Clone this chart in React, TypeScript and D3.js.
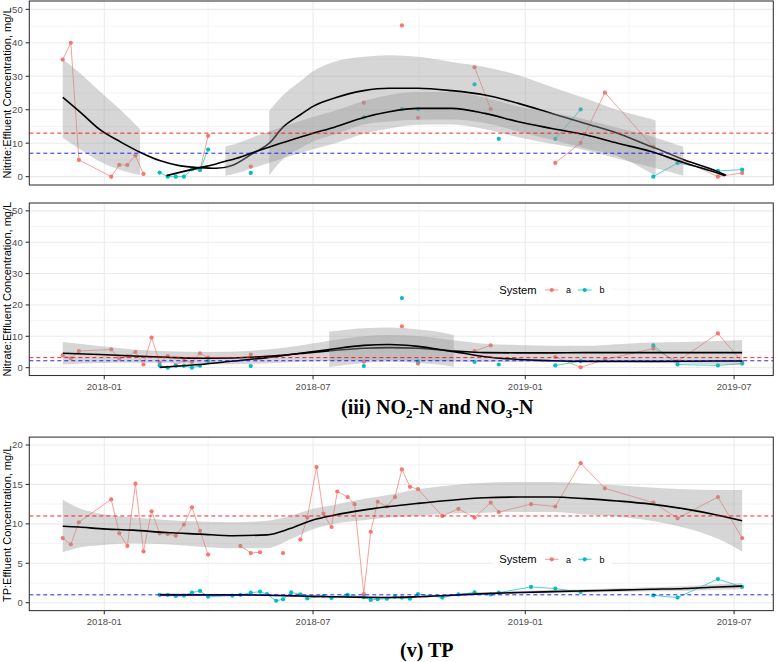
import React from 'react';
import * as d3 from 'd3';

type Obs = [string, number | null];
type Fit = [string, number, number | null, number | null];

// ---------- Nitrite (top panel) ----------
const nitriteA: Obs[] = [
  ['2017-11-26', 35], ['2017-12-03', 40], ['2017-12-10', 5], ['2018-01-07', 0], ['2018-01-14', 3.5],
  ['2018-01-21', 3.5], ['2018-01-28', 6.3], ['2018-02-04', 0.8], ['2018-02-11', null],
  ['2018-03-25', 2.0], ['2018-04-01', 12.2], ['2018-04-15', null], ['2018-05-08', 3.0], ['2018-06-01', null],
  ['2018-08-14', 22.1], ['2018-09-01', null], ['2018-09-16', 45.2], ['2018-09-23', null], ['2018-09-30', 17.6],
  ['2018-10-15', null], ['2018-11-18', 32.7], ['2018-12-02', 20.2], ['2018-12-20', null],
  ['2019-01-27', 4.1], ['2019-02-18', 10.1], ['2019-03-11', 25.1], ['2019-04-22', 8.9], ['2019-06-17', 0.0], ['2019-07-08', 1.1],
];
const nitriteB: Obs[] = [
  ['2018-02-18', 1.2], ['2018-02-25', 0], ['2018-03-04', 0], ['2018-03-11', 0], ['2018-03-18', 2.2],
  ['2018-03-25', 2.0], ['2018-04-01', 8.1], ['2018-04-15', null], ['2018-05-08', 1.1], ['2018-06-01', null],
  ['2018-08-14', 17.7], ['2018-09-01', null], ['2018-09-16', 20.2], ['2018-09-23', null], ['2018-09-30', 20.2],
  ['2018-10-15', null], ['2018-11-18', 27.6], ['2018-11-25', null], ['2018-12-09', 11.3], ['2018-12-20', null],
  ['2019-01-27', 11.3], ['2019-02-18', 20.1], ['2019-03-11', null], ['2019-04-22', 0], ['2019-05-13', 4.1],
  ['2019-06-17', 1.7], ['2019-07-08', 2.1],
];
const nitriteFitA: Fit[] = [
  ['2017-11-26', 23.7, 11.6, 35.1], ['2017-12-14', 18.4, 7.5, 30.0], ['2017-12-28', 14.1, 4.5, 25.5],
  ['2018-01-15', 10.4, 2.0, 20.0], ['2018-02-01', 7.3, 0.5, 14.2], ['2018-02-18', 4.8, null, null],
  ['2018-03-07', 3.3, null, null], ['2018-03-25', 2.7, null, null], ['2018-04-08', 2.5, null, null],
  ['2018-04-23', 3.5, null, null], ['2018-05-10', 7.0, null, null], ['2018-05-24', 10.0, 0.4, 19.6],
  ['2018-06-05', 14.8, 5.3, 24.3], ['2018-06-20', 18.5, 8.5, 28.5], ['2018-07-01', 21.0, 10.5, 31.5],
  ['2018-07-19', 23.4, 12.5, 34.3], ['2018-08-14', 25.7, 15.6, 35.8], ['2018-09-05', 26.4, 16.5, 36.3],
  ['2018-09-30', 26.4, 17.0, 35.8], ['2018-10-29', 25.7, 17.1, 34.3], ['2018-11-27', 24.4, 16.0, 32.8],
  ['2018-12-26', 21.9, 13.5, 30.3], ['2019-01-24', 18.9, 11.0, 26.8], ['2019-02-22', 15.9, 8.4, 23.4],
  ['2019-03-22', 13.0, 6.1, 19.9], ['2019-04-20', 9.0, 1.0, 17.2], ['2019-04-24', 8.5, 0.2, 16.8],
  ['2019-05-19', 5.0, null, null], ['2019-06-17', 1.5, null, null], ['2019-06-24', 0.4, null, null],
];
const nitriteFitB: Fit[] = [
  ['2018-02-24', 0.3, null, null], ['2018-03-10', 1.5, null, null], ['2018-03-25', 2.7, null, null],
  ['2018-04-08', 3.8, null, null], ['2018-04-16', 4.6, 0.3, 9.0], ['2018-04-23', 5.2, 0.8, 9.6],
  ['2018-05-10', 7.2, 2.6, 11.8], ['2018-06-05', 10.2, 5.5, 14.9], ['2018-07-01', 13.0, 8.2, 17.8],
  ['2018-07-19', 14.7, 9.8, 19.6], ['2018-08-14', 17.7, 12.8, 22.6], ['2018-09-05', 19.4, 14.4, 24.4],
  ['2018-09-30', 20.4, 15.5, 25.3], ['2018-10-29', 20.4, 15.6, 25.2], ['2018-11-27', 18.9, 14.2, 23.6],
  ['2018-12-26', 16.4, 11.8, 21.0], ['2019-01-24', 14.4, 9.8, 19.0], ['2019-02-22', 12.5, 7.9, 17.1],
  ['2019-03-22', 10.0, 5.4, 14.6], ['2019-04-20', 7.5, 2.9, 12.1], ['2019-05-18', 4.2, 0.3, 8.9],
  ['2019-06-17', 1.0, null, null], ['2019-06-23', 0.3, null, null],
];
const nitriteLimits = [13, 7];

// ---------- Nitrate (middle panel) ----------
const nitrateA: Obs[] = [
  ['2017-11-26', 3.9], ['2017-12-03', 3.0], ['2017-12-10', 5.3], ['2018-01-07', 5.8], ['2018-01-14', 2.9],
  ['2018-01-21', 3.7], ['2018-01-28', 5.0], ['2018-02-04', 1.0], ['2018-02-11', 9.6], ['2018-02-18', 1.6],
  ['2018-02-25', 3.7], ['2018-03-04', 0.8], ['2018-03-11', 2.3], ['2018-03-18', 1.8], ['2018-03-25', 4.6],
  ['2018-04-01', 3.2], ['2018-04-15', null], ['2018-05-08', 4.2], ['2018-06-01', null], ['2018-08-14', 1.9],
  ['2018-09-01', null], ['2018-09-16', 13.2], ['2018-09-23', null], ['2018-09-30', 1.3], ['2018-10-15', null],
  ['2018-11-18', 5.3], ['2018-12-02', 7.1], ['2018-12-20', null], ['2019-01-27', 3.4], ['2019-02-18', 0.1],
  ['2019-03-11', 2.6], ['2019-04-22', 6.1], ['2019-05-13', 2.0], ['2019-06-17', 10.9], ['2019-07-08', 1.8],
];
const nitrateB: Obs[] = [
  ['2018-02-18', 0.7], ['2018-02-25', 0], ['2018-03-04', 0.6], ['2018-03-11', 0.6], ['2018-03-18', 0],
  ['2018-03-25', 0.6], ['2018-04-01', 2.1], ['2018-04-15', null], ['2018-05-08', 0.5], ['2018-06-01', null],
  ['2018-08-14', 0.5], ['2018-09-01', null], ['2018-09-16', 22.2], ['2018-09-23', null], ['2018-09-30', 2.0],
  ['2018-10-15', null], ['2018-11-18', 1.8], ['2018-11-25', null], ['2018-12-09', 1.0], ['2018-12-20', null],
  ['2019-01-27', 0.7], ['2019-02-18', 2.1], ['2019-03-11', null], ['2019-04-22', 7.1], ['2019-05-13', 1.0],
  ['2019-06-17', 0.7], ['2019-07-08', 1.3],
];
const nitrateFitA: Fit[] = [
  ['2017-11-26', 4.6, 1.0, 8.2], ['2017-12-28', 4.2, 1.5, 6.9], ['2018-01-26', 3.7, 1.6, 5.8],
  ['2018-02-24', 3.3, 1.5, 5.2], ['2018-03-25', 3.0, 1.1, 5.0], ['2018-04-23', 3.1, 1.1, 5.1],
  ['2018-05-22', 3.6, 1.4, 5.8], ['2018-06-20', 4.5, 1.9, 7.1], ['2018-07-19', 5.5, 2.2, 8.8],
  ['2018-08-14', 6.2, 2.4, 10.0], ['2018-09-05', 6.4, 2.4, 10.4], ['2018-09-30', 6.2, 2.3, 10.1],
  ['2018-10-29', 5.4, 2.0, 8.8], ['2018-11-27', 4.8, 1.8, 7.6], ['2018-12-26', 4.7, 1.8, 7.2],
  ['2019-01-24', 4.7, 1.9, 7.0], ['2019-02-22', 4.8, 2.0, 7.0], ['2019-03-22', 4.8, 1.8, 7.5],
  ['2019-04-20', 4.8, 1.6, 8.0], ['2019-05-19', 4.8, 1.3, 8.2], ['2019-06-17', 4.8, 1.0, 8.5],
  ['2019-07-08', 4.8, 0.8, 8.8],
];
const nitrateFitB: Fit[] = [
  ['2018-02-18', 0.1, null, null], ['2018-03-25', 1.0, null, null], ['2018-04-23', 2.1, null, null],
  ['2018-05-22', 3.2, null, null], ['2018-06-20', 4.6, null, null], ['2018-07-15', 5.8, 0.2, 11.5],
  ['2018-08-14', 7.1, 1.5, 12.6], ['2018-09-05', 7.4, 2.0, 12.8], ['2018-09-30', 6.8, 1.5, 12.2],
  ['2018-10-29', 5.2, 0.4, 10.6], ['2018-10-31', 5.1, 0.1, 10.4], ['2018-11-27', 3.5, null, null],
  ['2018-12-26', 2.6, null, null], ['2019-01-24', 2.2, null, null], ['2019-02-22', 2.0, null, null],
  ['2019-04-20', 2.0, null, null], ['2019-06-17', 2.1, null, null], ['2019-07-08', 2.1, null, null],
];
const nitrateLimits = [3.2, 2.2];

// ---------- TP (bottom panel) ----------
const tpA: Obs[] = [
  ['2017-11-26', 8.2], ['2017-12-03', 7.4], ['2017-12-10', 10.2], ['2018-01-07', 13.1], ['2018-01-14', 8.8],
  ['2018-01-21', 7.2], ['2018-01-28', 15.1], ['2018-02-04', 6.5], ['2018-02-11', 11.6], ['2018-02-18', 8.8],
  ['2018-02-25', 8.7], ['2018-03-04', 8.5], ['2018-03-11', 9.9], ['2018-03-18', 12.1], ['2018-03-25', 9.1],
  ['2018-04-01', 6.1], ['2018-04-15', null], ['2018-04-29', 7.2], ['2018-05-08', 6.3], ['2018-05-16', 6.4],
  ['2018-05-26', null], ['2018-06-05', 6.3], ['2018-06-12', null], ['2018-06-20', 8.0], ['2018-06-26', 10.8],
  ['2018-07-04', 17.2], ['2018-07-10', 11.3], ['2018-07-17', 9.6], ['2018-07-22', 14.1], ['2018-07-31', 13.4],
  ['2018-08-06', 12.5], ['2018-08-14', 1.1], ['2018-08-20', 9.0], ['2018-08-26', 12.8], ['2018-09-03', 12.2],
  ['2018-09-10', 13.4], ['2018-09-16', 16.9], ['2018-09-23', 14.7], ['2018-09-30', 14.4], ['2018-10-21', 11.0],
  ['2018-11-04', 11.9], ['2018-11-18', 10.8], ['2018-12-02', 12.7], ['2018-12-09', 11.5], ['2019-01-06', 12.5],
  ['2019-01-27', 12.2], ['2019-02-18', 17.7], ['2019-03-11', 14.5], ['2019-04-22', 12.7], ['2019-05-13', 10.7],
  ['2019-06-17', 13.4], ['2019-07-08', 8.2],
];
const tpB: Obs[] = [
  ['2018-02-18', 1.0], ['2018-02-25', 1.0], ['2018-03-04', 0.85], ['2018-03-11', 0.9], ['2018-03-18', 1.27],
  ['2018-03-25', 1.5], ['2018-04-01', 0.76], ['2018-04-22', 0.9], ['2018-04-29', 1.0], ['2018-05-08', 1.27],
  ['2018-05-16', 1.4], ['2018-05-22', 1.1], ['2018-05-30', 0.25], ['2018-06-05', 0.43], ['2018-06-12', 1.3],
  ['2018-06-20', 1.05], ['2018-06-26', 0.55], ['2018-07-10', 0.85], ['2018-07-17', 0.6], ['2018-07-31', 1.0],
  ['2018-08-14', 0.7], ['2018-08-20', 0.35], ['2018-08-26', 0.45], ['2018-09-03', 0.5], ['2018-09-10', 0.76],
  ['2018-09-16', 0.65], ['2018-09-23', 0.5], ['2018-09-30', 1.1], ['2018-10-21', 0.65], ['2018-11-04', 1.05],
  ['2018-11-18', 1.3], ['2018-12-02', 1.05], ['2018-12-09', 1.27], ['2019-01-06', 2.0], ['2019-01-27', 1.8],
  ['2019-02-18', 1.35], ['2019-03-11', null], ['2019-04-22', 0.93], ['2019-05-13', 0.65], ['2019-06-17', 3.0],
  ['2019-07-08', 2.0],
];
const tpFitA: Fit[] = [
  ['2017-11-26', 9.7, 6.4, 13.1], ['2017-12-10', 9.6, 7.0, 12.0], ['2017-12-28', 9.4, 7.3, 11.3],
  ['2018-01-26', 9.2, 7.5, 10.8], ['2018-02-24', 8.9, 7.4, 10.5], ['2018-03-25', 8.7, 7.1, 10.3],
  ['2018-04-23', 8.5, 6.9, 10.2], ['2018-05-22', 8.6, 6.9, 10.4], ['2018-06-11', 9.4, 8.0, 11.0],
  ['2018-07-01', 10.5, 9.3, 11.9], ['2018-07-19', 11.1, 10.0, 12.4], ['2018-08-16', 11.8, 10.5, 13.2],
  ['2018-09-05', 12.2, 10.8, 13.7], ['2018-09-30', 12.6, 11.0, 14.4], ['2018-10-29', 13.0, 11.3, 14.9],
  ['2018-11-27', 13.3, 11.4, 15.2], ['2018-12-26', 13.4, 11.5, 15.3], ['2019-01-24', 13.4, 11.5, 15.3],
  ['2019-02-22', 13.2, 11.2, 15.1], ['2019-03-22', 12.9, 10.9, 14.9], ['2019-04-20', 12.5, 10.4, 14.6],
  ['2019-05-19', 11.9, 9.5, 14.4], ['2019-06-17', 11.1, 8.1, 14.3], ['2019-07-08', 10.4, 6.5, 14.3],
];
const tpFitB: Fit[] = [
  ['2018-02-18', 1.0, 0.8, 1.25], ['2018-03-25', 1.0, 0.85, 1.15], ['2018-04-23', 1.0, 0.88, 1.12],
  ['2018-05-22', 0.95, 0.83, 1.07], ['2018-06-20', 0.85, 0.74, 0.96], ['2018-07-19', 0.75, 0.65, 0.86],
  ['2018-08-16', 0.68, 0.57, 0.8], ['2018-09-05', 0.66, 0.55, 0.78], ['2018-09-30', 0.75, 0.63, 0.87],
  ['2018-10-29', 0.95, 0.82, 1.08], ['2018-11-27', 1.15, 1.0, 1.3], ['2018-12-26', 1.3, 1.13, 1.47],
  ['2019-01-24', 1.4, 1.2, 1.6], ['2019-02-22', 1.5, 1.28, 1.72], ['2019-03-22', 1.6, 1.36, 1.84],
  ['2019-04-20', 1.7, 1.44, 1.96], ['2019-05-19', 1.8, 1.5, 2.1], ['2019-06-17', 2.0, 1.65, 2.35],
  ['2019-07-08', 2.1, 1.7, 2.5],
];
const tpLimits = [11, 1];

// ---------- axes ----------
const yTicks50 = [0, 10, 20, 30, 40, 50];
const yMinor50 = [5, 15, 25, 35, 45];
const yTicks20 = [0, 5, 10, 15, 20];
const yMinor20 = [2.5, 7.5, 12.5, 17.5];
const xBreaks = ['2018-01-01', '2018-07-01', '2019-01-01', '2019-07-01'];
const xLabels = ['2018-01', '2018-07', '2019-01', '2019-07'];
const xMinor = ['2018-04-01', '2018-10-01', '2019-04-01'];
const systems = ['a', 'b'];
const systemColors = ['#F8766D', '#00BFC4'];
const limitColors = ['#FF0000', '#0000FF'];

const parse = d3.utcParse('%Y-%m-%d');
const X0 = 29.3;
const X1 = 773.3;
const x = d3.scaleUtc().domain([parse('2017-10-28')!, parse('2019-08-04')!]).range([X0, X1]);
const px = (s: string) => x(parse(s)!);
const SANS = 'Liberation Sans, Arial, Helvetica, sans-serif';

type PanelProps = {
  top: number; bottom: number; domain: [number, number]; ticks: number[]; minor: number[];
  title: string; a: Obs[]; b: Obs[]; fa: Fit[]; fb: Fit[]; limits: number[]; xAxis: boolean; legendY?: number;
};

function Legend({ cy }: { cy: number }) {
  const keyX = [545, 578];
  const labX = [566, 599.5];
  return (
    <g>
      <rect x={493} y={cy - 8} width={119} height={16} fill="#fff" />
      <text x={499.3} y={cy + 4} fontFamily={SANS} fontSize={11.2} fill="#000">System</text>
      {systems.map((s, i) => (
        <g key={s}>
          <line x1={keyX[i]} x2={keyX[i] + 13.5} y1={cy} y2={cy} stroke={systemColors[i]} strokeWidth={1} opacity={0.75} />
          <circle cx={keyX[i] + 6.75} cy={cy} r={2.1} fill={systemColors[i]} />
          <text x={labX[i]} y={cy + 3.2} fontFamily={SANS} fontSize={9} fill="#000">{s}</text>
        </g>
      ))}
    </g>
  );
}

function Panel(p: PanelProps) {
  const y = d3.scaleLinear().domain(p.domain).range([p.bottom, p.top]);
  const obsLine = d3.line<Obs>().defined((d) => d[1] !== null).x((d) => px(d[0])).y((d) => y(d[1] as number));
  const fitLine = d3.line<Fit>().x((d) => px(d[0])).y((d) => y(d[1])).curve(d3.curveMonotoneX);
  const band = d3.area<Fit>()
    .defined((d) => d[2] !== null && d[3] !== null)
    .x((d) => px(d[0]))
    .y0((d) => y(d[2] as number))
    .y1((d) => y(d[3] as number))
    .curve(d3.curveMonotoneX);
  const cy = (p.top + p.bottom) / 2;
  const series = [p.a, p.b];
  const fits = [p.fa, p.fb];
  return (
    <g>
      <rect x={X0} y={p.top} width={X1 - X0} height={p.bottom - p.top} fill="#fff" />
      {p.minor.map((v) => (
        <line key={'ym' + v} x1={X0} x2={X1} y1={y(v)} y2={y(v)} stroke="#EBEBEB" strokeWidth={0.55} />
      ))}
      {xMinor.map((d) => (
        <line key={'xm' + d} x1={px(d)} x2={px(d)} y1={p.top} y2={p.bottom} stroke="#EBEBEB" strokeWidth={0.55} />
      ))}
      {p.ticks.map((v) => (
        <line key={'yM' + v} x1={X0} x2={X1} y1={y(v)} y2={y(v)} stroke="#EBEBEB" strokeWidth={1.1} />
      ))}
      {xBreaks.map((d) => (
        <line key={'xM' + d} x1={px(d)} x2={px(d)} y1={p.top} y2={p.bottom} stroke="#EBEBEB" strokeWidth={1.1} />
      ))}
      {series.map((s, i) => (
        <path key={'l' + i} d={obsLine(s) || ''} fill="none" stroke={systemColors[i]} strokeWidth={1} opacity={0.7} />
      ))}
      {series.map((s, i) =>
        s.filter((d) => d[1] !== null).map((d, j) => (
          <circle key={'p' + i + '-' + j} cx={px(d[0])} cy={y(d[1] as number)} r={2.1} fill={systemColors[i]} />
        ))
      )}
      {fits.map((f, i) => (
        <g key={'f' + i}>
          <path d={band(f) || ''} fill="#999999" fillOpacity={0.4} stroke="none" />
          <path d={fitLine(f) || ''} fill="none" stroke="#000" strokeWidth={1.6} />
        </g>
      ))}
      {p.limits.map((v, i) => (
        <line key={'h' + i} x1={X0} x2={X1} y1={y(v)} y2={y(v)} stroke={limitColors[i]} strokeWidth={1} strokeDasharray="4,3" opacity={0.85} />
      ))}
      {p.legendY !== undefined && <Legend cy={p.legendY} />}
      <rect x={X0} y={p.top} width={X1 - X0} height={p.bottom - p.top} fill="none" stroke="#333" strokeWidth={1.07} />
      {p.ticks.map((v) => (
        <g key={'yt' + v}>
          <line x1={X0 - 3.7} x2={X0} y1={y(v)} y2={y(v)} stroke="#333" strokeWidth={1.07} />
          <text x={22.7} y={y(v)} dy="0.35em" textAnchor="end" fontFamily={SANS} fontSize={9.5} fill="#4D4D4D">{v}</text>
        </g>
      ))}
      {p.xAxis && xBreaks.map((d, i) => (
        <g key={'xt' + d}>
          <line x1={px(d)} x2={px(d)} y1={p.bottom} y2={p.bottom + 3.7} stroke="#333" strokeWidth={1.07} />
          <text x={px(d)} y={p.bottom + 14} textAnchor="middle" fontFamily={SANS} fontSize={9.5} fill="#4D4D4D">{xLabels[i]}</text>
        </g>
      ))}
      <text transform={`translate(11,${cy}) rotate(-90)`} textAnchor="middle" fontFamily={SANS} fontSize={11} fill="#000">{p.title}</text>
    </g>
  );
}

export default function App() {
  return (
    <svg width={777} height={662} viewBox="0 0 777 662" style={{ position: 'absolute', left: 0, top: 0, display: 'block', background: '#fff' }}>
      <rect x={0} y={0} width={777} height={662} fill="#fff" />
      <Panel top={1} bottom={185} domain={[-2.5, 52.5]} ticks={yTicks50} minor={yMinor50}
        title="Nitrite:Effluent Concentration, mg/L" a={nitriteA} b={nitriteB} fa={nitriteFitA} fb={nitriteFitB}
        limits={nitriteLimits} xAxis={false} />
      <Panel top={203} bottom={375.5} domain={[-2.5, 52.5]} ticks={yTicks50} minor={yMinor50}
        title="Nitrate:Effluent Concentration, mg/L" a={nitrateA} b={nitrateB} fa={nitrateFitA} fb={nitrateFitB}
        limits={nitrateLimits} xAxis={true} legendY={290} />
      <Panel top={437.1} bottom={610.6} domain={[-1, 21]} ticks={yTicks20} minor={yMinor20}
        title="TP:Effluent Concentration, mg/L" a={tpA} b={tpB} fa={tpFitA} fb={tpFitB}
        limits={tpLimits} xAxis={true} legendY={559.3} />
      <text x={341} y={414} fontFamily="Liberation Serif, Times New Roman, serif" fontWeight="bold" fontSize={20} fill="#000">
        (iii) NO<tspan dy={4} fontSize={13}>2</tspan><tspan dy={-4}>-N and NO</tspan><tspan dy={4} fontSize={13}>3</tspan><tspan dy={-4}>-N</tspan>
      </text>
      <text x={400} y={657} fontFamily="Liberation Serif, Times New Roman, serif" fontWeight="bold" fontSize={20} fill="#000">(v) TP</text>
    </svg>
  );
}
